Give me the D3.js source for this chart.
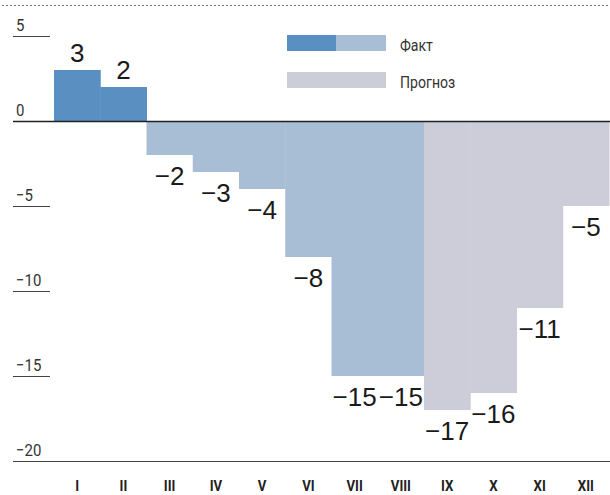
<!DOCTYPE html>
<html>
<head>
<meta charset="utf-8">
<script src="https://cdn.jsdelivr.net/npm/d3@7"></script>
<style>
  body { margin: 0; background: #fff; }
  svg { display: block; }
  .narrow { font-family: "Liberation Sans Narrow", "Roboto", "Liberation Sans", sans-serif; }
  .num { font-family: "Liberation Sans", "Helvetica", "Arial", sans-serif; }
</style>
</head>
<body>
<div id="chart"></div>
<script>
var months = ['I', 'II', 'III', 'IV', 'V', 'VI', 'VII', 'VIII', 'IX', 'X', 'XI', 'XII'];
var values = [3, 2, -2, -3, -4, -8, -15, -15, -17, -16, -11, -5];
var kinds = ['fact', 'fact', 'fact', 'fact', 'fact', 'fact', 'fact', 'fact', 'plan', 'plan', 'plan', 'plan'];
var yTicks = [5, 0, -5, -10, -15, -20];
var legendItems = ['Факт', 'Прогноз'];

var width = 610;
var height = 495;
var darkBlue = '#5a8fc2';
var lightBlue = '#a8bed4';
var grey = '#cdcdd9';
var squeeze = 0.88;

var svg = d3.select('#chart').append('svg')
  .attr('width', width)
  .attr('height', height);

var x = d3.scaleBand().domain(months).range([54, 609]).padding(0);
var y = d3.scaleLinear().domain([-20, 5]).range([461, 36]);

var barColor = function (d, i) {
  if (kinds[i] === 'plan') return grey;
  return d > 0 ? darkBlue : lightBlue;
};

// condensed text helper, positions via transform
var place = function (px, py) {
  return 'translate(' + px + ',' + py + ') scale(' + squeeze + ',1)';
};

// top dashed rule
svg.append('line')
  .attr('x1', 2).attr('x2', width)
  .attr('y1', 5.5).attr('y2', 5.5)
  .attr('stroke', '#777')
  .attr('stroke-dasharray', '2,2');

// bars
svg.selectAll('rect.bar')
  .data(values)
  .enter()
  .append('rect')
  .attr('class', 'bar')
  .attr('x', function (d, i) { return x(months[i]); })
  .attr('width', x.bandwidth() + 0.5)
  .attr('y', function (d) { return y(Math.max(0, d)); })
  .attr('height', function (d) { return Math.abs(y(d) - y(0)); })
  .attr('fill', barColor);

// y ticks
svg.selectAll('line.tick')
  .data(yTicks)
  .enter()
  .append('line')
  .attr('x1', 13)
  .attr('x2', function (d) { return (d === 0 || d === -20) ? width : 50; })
  .attr('y1', function (d) { return y(d) + 0.5; })
  .attr('y2', function (d) { return y(d) + 0.5; })
  .attr('stroke', function (d) { return d === 0 ? '#222' : '#444'; })
  .attr('stroke-width', function (d) { return d === 0 ? 1.3 : 1; });

svg.selectAll('text.ytick')
  .data(yTicks)
  .enter()
  .append('text')
  .attr('class', 'narrow')
  .attr('transform', function (d) { return place(16, y(d) - 5); })
  .attr('font-size', 17)
  .attr('fill', '#333')
  .text(function (d) { return d < 0 ? '\u2212' + Math.abs(d) : d; });

// value labels
svg.selectAll('text.val')
  .data(values)
  .enter()
  .append('text')
  .attr('class', 'num')
  .attr('x', function (d, i) { return x(months[i]) + x.bandwidth() / 2; })
  .attr('y', function (d) { return d > 0 ? y(d) - 8 : y(d) + 30; })
  .attr('text-anchor', 'middle')
  .attr('font-size', 26)
  .attr('fill', '#1a1a1a')
  .text(function (d) { return d < 0 ? '\u2212' + Math.abs(d) : d; });

// month labels
svg.selectAll('text.month')
  .data(months)
  .enter()
  .append('text')
  .attr('class', 'narrow')
  .attr('transform', function (d) { return place(x(d) + x.bandwidth() / 2, 491); })
  .attr('text-anchor', 'middle')
  .attr('font-size', 15)
  .attr('font-weight', 'bold')
  .attr('fill', '#222')
  .text(function (d) { return d; });

// legend
var legend = svg.append('g');
legend.append('rect').attr('x', 287).attr('y', 35).attr('width', 50).attr('height', 16).attr('fill', darkBlue);
legend.append('rect').attr('x', 336).attr('y', 35).attr('width', 50).attr('height', 16).attr('fill', lightBlue);
legend.append('rect').attr('x', 287).attr('y', 72).attr('width', 99).attr('height', 16).attr('fill', grey);
legend.selectAll('text')
  .data(legendItems)
  .enter()
  .append('text')
  .attr('class', 'narrow')
  .attr('transform', function (d, i) { return place(400, 51 + i * 37); })
  .attr('font-size', 16)
  .attr('fill', '#333')
  .text(function (d) { return d; });
</script>
</body>
</html>
